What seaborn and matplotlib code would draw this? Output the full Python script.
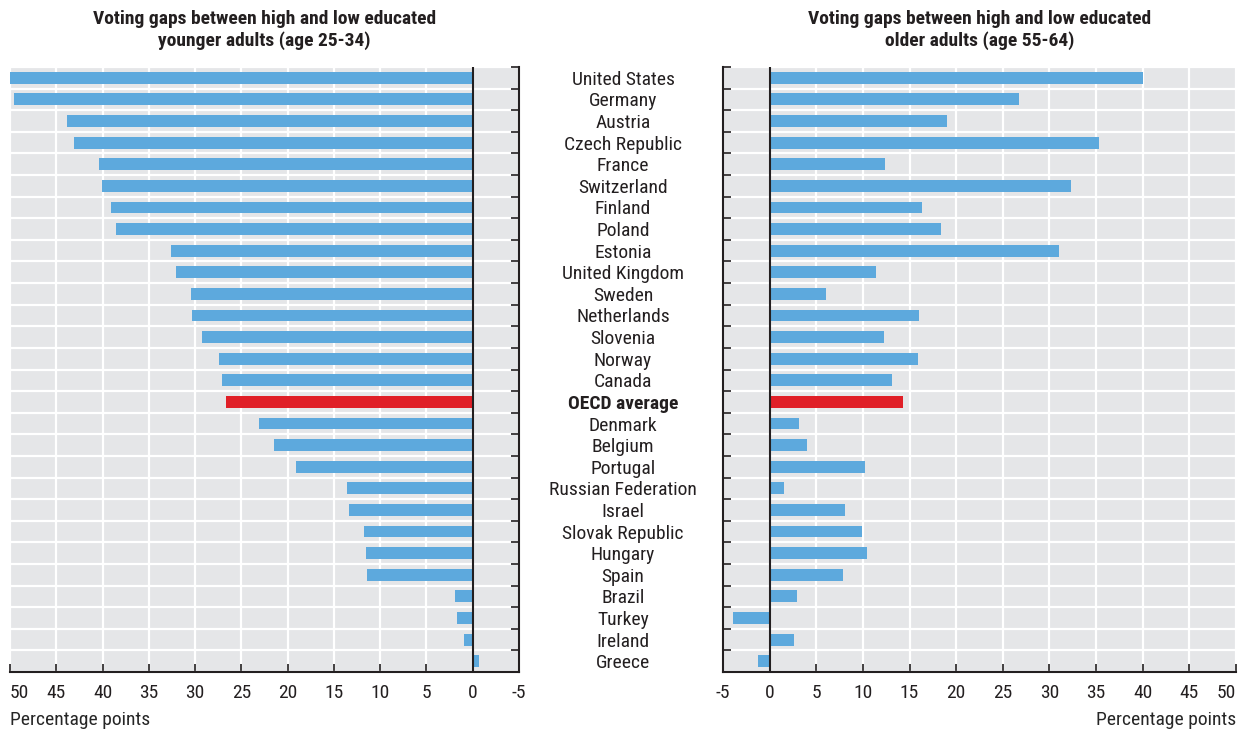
import numpy as np
import pandas as pd
import seaborn as sns
import matplotlib.pyplot as plt

countries = ['United States', 'Germany', 'Austria', 'Czech Republic', 'France', 'Switzerland',
             'Finland', 'Poland', 'Estonia', 'United Kingdom', 'Sweden', 'Netherlands',
             'Slovenia', 'Norway', 'Canada', 'OECD average', 'Denmark', 'Belgium', 'Portugal',
             'Russian Federation', 'Israel', 'Slovak Republic', 'Hungary', 'Spain', 'Brazil',
             'Turkey', 'Ireland', 'Greece']
younger = [50.8, 49.6, 43.8, 43.1, 40.4, 40.1, 39.1, 38.5, 32.6, 32.1, 30.4, 30.3,
           29.2, 27.4, 27.1, 26.7, 23.1, 21.5, 19.1, 13.6, 13.4, 11.8, 11.5, 11.4,
           1.9, 1.7, 0.9, -0.7]
older = [40.0, 26.7, 19.0, 35.3, 12.4, 32.3, 16.3, 18.4, 31.0, 11.4, 6.0, 16.0,
         12.3, 15.9, 13.1, 14.3, 3.2, 4.0, 10.2, 1.5, 8.1, 9.9, 10.4, 7.9,
         2.9, -3.9, 2.6, -1.3]
x_ticks = [-5, 0, 5, 10, 15, 20, 25, 30, 35, 40, 45, 50]

BLUE = '#5DA9DD'
RED = '#E01F27'
BG = '#E5E6E8'
DARK = '#231F20'
FS = 14

sns.set_theme(style='white')
plt.rcParams['font.family'] = ['Roboto Condensed', 'Liberation Sans Narrow', 'Roboto', 'DejaVu Sans']
plt.rcParams['text.color'] = DARK

df = pd.DataFrame({'country': countries, 'younger': younger, 'older': older})
df['group'] = np.where(df['country'] == 'OECD average', 'oecd', 'country')
pal = {'country': BLUE, 'oecd': RED}

fig = plt.figure(figsize=(12.44, 7.32), dpi=100)
ax1 = fig.add_axes([10 / 1244, 1 - 672 / 732, 509 / 1244, 605 / 732])
ax2 = fig.add_axes([723 / 1244, 1 - 672 / 732, 513 / 1244, 605 / 732])

n = len(countries)
for ax, col in [(ax1, 'younger'), (ax2, 'older')]:
    sns.barplot(data=df, x=col, y='country', hue='group', palette=pal, order=countries,
                dodge=False, width=0.55, saturation=1, linewidth=0, legend=False,
                ax=ax, zorder=3)
    ax.set_facecolor(BG)
    ax.set_ylim(n - 0.5, -0.5)
    ax.set_xticks(x_ticks)
    ax.set_xticklabels([str(t) for t in x_ticks], fontsize=FS)
    ax.set_yticks(np.arange(-0.5, n, 1), minor=True)
    ax.grid(which='major', axis='x', color='white', lw=1.6, zorder=1)
    ax.grid(which='minor', axis='y', color='white', lw=1.6, zorder=1)
    ax.grid(which='major', axis='y', visible=False)
    ax.set_axisbelow(True)
    ax.axvline(0, color=DARK, lw=1.5, zorder=4)
    ax.set_ylabel('')
    for s in ax.spines.values():
        s.set_color(DARK)
        s.set_linewidth(1.5)
        s.set_zorder(5)
    ax.spines['top'].set_visible(False)

# left panel: reversed axis, ticks on the right spine
ax1.set_xlim(50, -5)
ax1.spines['left'].set_visible(False)
ax1.yaxis.tick_right()
ax1.set_xlabel('Percentage points', fontsize=FS, loc='left', labelpad=6)
ax1.get_xticklabels()[-1].set_ha('left')
ax1.set_title('Voting gaps between high and low educated\nyounger adults (age 25-34)',
              fontsize=FS, fontweight='bold', pad=15, linespacing=1.25)

# right panel: country names sit centred between the two panels
ax2.set_xlim(-5, 50)
ax2.spines['right'].set_visible(False)
ax2.set_xlabel('Percentage points', fontsize=FS, loc='right', labelpad=6)
ax2.get_xticklabels()[-1].set_ha('right')
ax2.set_title('Voting gaps between high and low educated\nolder adults (age 55-64)',
              fontsize=FS, fontweight='bold', pad=15, linespacing=1.25)

for ax in (ax1, ax2):
    ax.tick_params(axis='x', which='major', direction='in', length=6, width=1.2, color=DARK,
                   pad=9, bottom=True, top=False, labelcolor=DARK)
ax1.tick_params(axis='y', which='both', left=False, right=True, labelleft=False, labelright=False)
ax1.tick_params(axis='y', which='minor', direction='in', length=6, width=1.2, color=DARK)
ax1.tick_params(axis='y', which='major', length=0)
ax2.tick_params(axis='y', which='both', left=True, right=False)
ax2.tick_params(axis='y', which='minor', direction='in', length=6, width=1.2, color=DARK)
# 100 px from the spine to the middle of the gap
ax2.tick_params(axis='y', which='major', length=0, pad=72, labelsize=FS, labelcolor=DARK)
for lab in ax2.get_yticklabels():
    lab.set_ha('center')
    if lab.get_text() == 'OECD average':
        lab.set_fontweight('bold')
for ax in (ax1, ax2):
    for t in ax.yaxis.get_minor_ticks():
        t.tick1line.set_zorder(6)
        t.tick2line.set_zorder(6)

fig.savefig('out.png', dpi=100)
